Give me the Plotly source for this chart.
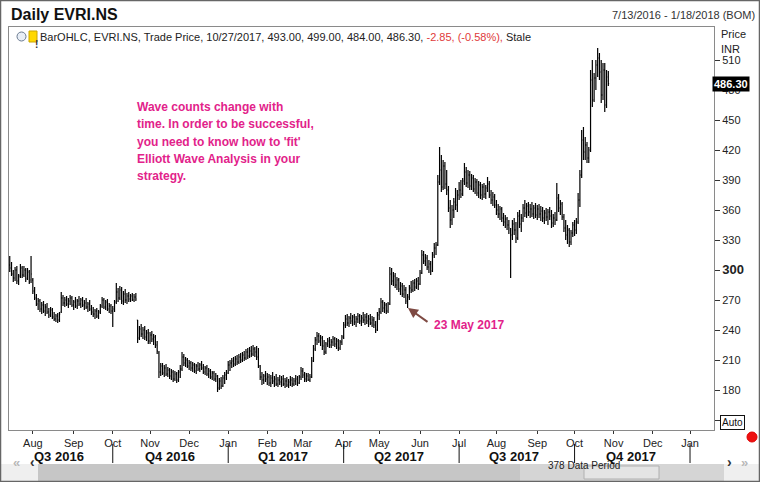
import pandas as pd
import plotly.graph_objects as go

# ---------------- DATA (daily OHLC, EVRI.NS, 13 Jul 2016 - 27 Oct 2017) ----------------
start_date = "2016-07-13"

opens = [
    # Jul 2016
    305,302,296,292,300,289,294,302,295,300,292,298,290,
    # Aug 2016
    290,279,272,266,269,261,265,259,263,258,255,260,253,251,254,250,258,272,267,270,266,269,272,
    # Sep 2016
    265,268,264,269,266,270,265,267,263,266,261,258,256,259,254,258,264,270,263,268,261,264,
    # Oct 2016
    259,261,268,278,272,280,269,276,270,274,271,274,270,273,250,232,241,236,240,233,237,
    # Nov 2016
    229,235,231,233,225,217,198,204,197,202,196,200,194,198,191,196,190,198,201,213,207,210,
    # Dec 2016
    204,207,202,205,199,204,201,205,202,198,202,196,199,193,197,191,194,182,189,184,192,195,
    # Jan 2017
    197,205,207,209,206,211,208,213,210,215,212,218,214,219,216,221,218,213,204,193,190,194,
    # Feb 2017
    191,193,187,192,189,191,186,190,188,191,186,189,185,188,190,186,189,191,187,193,
    # Mar 2017
    199,195,191,194,190,193,209,221,230,234,229,232,224,218,226,229,225,228,231,226,229,222,228,
    # Apr 2017
    233,245,251,247,252,249,253,248,251,254,249,252,250,253,249,251,247,250,245,240,
    # May 2017
    255,258,268,262,265,259,266,296,289,294,285,290,281,284,276,280,269,273,282,280,287,283,289,
    # Jun 2017
    286,297,315,309,312,303,306,299,315,322,325,388,400,383,404,386,380,362,350,360,368,365,
    # Jul 2017
    375,380,376,389,398,387,395,384,392,381,388,377,385,375,383,376,382,386,375,370,373,
    # Aug 2017
    365,360,356,361,352,348,351,345,340,335,346,340,332,354,346,352,362,357,364,358,361,356,362,
    # Sep 2017
    355,361,356,359,352,357,353,358,354,347,352,350,372,362,366,353,342,335,340,328,337,
    # Oct 2017
    345,340,348,370,395,430,418,425,412,420,490,470,492,505,512,498,475,500,465,493,
]

highs = [
    314,308,300,303,304,296,306,304,304,302,302,300,314,
    292,283,276,272,271,268,269,266,267,262,263,262,258,256,257,258,278,275,273,274,272,275,274,
    270,273,271,274,272,273,270,272,268,270,265,263,261,262,260,266,273,272,270,271,267,266,
    264,270,287,282,284,283,279,281,277,278,276,277,276,277,250,244,246,243,244,240,241,
    238,239,236,235,229,219,207,207,205,206,203,202,201,200,199,198,200,205,218,216,213,212,
    210,209,208,207,206,208,207,209,206,204,205,202,201,199,199,197,195,192,193,195,198,200,
    209,210,212,213,214,215,216,217,218,219,221,222,223,224,225,223,224,222,205,198,196,199,
    197,196,195,198,194,196,193,195,194,195,192,193,191,194,193,192,195,194,195,203,
    202,198,197,197,196,213,225,233,238,237,235,234,230,228,232,233,231,234,233,232,231,230,235,
    248,255,256,254,257,255,256,254,257,256,255,258,256,257,255,256,254,253,249,258,
    262,272,270,268,267,268,303,302,298,297,293,292,288,287,285,283,276,285,289,290,291,292,293,
    300,320,319,316,315,310,309,318,327,328,395,423,415,410,408,400,384,370,365,372,382,380,
    388,390,392,407,403,400,399,396,395,392,391,389,388,386,387,385,393,389,380,378,376,
    370,366,364,363,357,355,353,350,342,350,352,348,358,360,356,366,370,367,368,366,368,365,367,
    365,366,364,363,360,362,361,363,360,356,358,387,376,370,368,356,350,345,342,340,348,
    350,352,377,400,440,443,433,428,423,500,510,497,510,522,517,510,507,507,500,499,
]

lows = [
    298,294,288,289,286,285,292,292,293,288,290,286,287,
    276,270,264,260,258,256,257,254,256,252,253,251,249,248,247,248,257,264,263,264,262,265,263,
    260,262,261,264,262,263,260,261,258,259,255,253,251,252,251,256,262,261,260,259,257,256,
    243,258,266,268,270,266,265,267,266,268,268,269,268,269,227,230,233,231,230,229,226,
    226,228,225,222,216,192,194,195,193,194,193,191,190,188,189,187,188,192,199,204,203,202,
    200,199,198,197,196,199,198,200,196,195,194,192,191,190,189,188,178,180,181,183,186,190,
    196,199,202,203,204,205,206,207,208,209,210,211,212,213,214,213,210,202,190,185,186,188,
    185,184,183,186,183,184,183,185,183,184,182,183,182,184,183,184,185,184,186,190,
    192,188,188,189,188,192,208,219,225,227,224,220,215,216,223,222,222,224,223,221,219,220,225,
    231,242,244,243,246,244,245,243,247,246,244,247,245,246,243,245,243,242,237,239,
    250,256,258,257,256,257,265,285,284,282,280,278,275,273,272,266,262,270,277,278,279,281,280,
    285,296,306,304,300,297,295,298,312,315,324,385,378,380,381,375,358,342,345,352,360,358,
    370,372,374,385,383,382,380,380,378,376,374,372,371,370,372,371,378,372,366,364,362,
    355,352,350,348,344,342,340,336,292,330,335,327,330,342,338,348,353,352,354,352,353,351,352,
    350,352,349,348,346,349,345,350,342,343,345,349,358,355,350,338,330,326,323,325,333,
    334,336,346,363,392,410,410,407,407,418,463,468,480,493,490,467,470,458,462,484,
]

closes = [
    302,296,292,300,289,294,302,295,300,291,298,288,296,
    279,272,266,269,261,265,259,263,258,255,260,253,251,254,250,256,272,267,270,266,269,272,265,
    268,264,269,266,270,265,267,263,266,261,258,256,259,254,258,264,270,263,268,261,264,259,
    261,268,278,272,280,269,276,270,274,271,274,270,273,271,232,241,236,240,233,237,229,
    235,231,233,225,219,198,204,197,202,196,200,194,198,191,196,190,198,201,213,207,210,204,
    207,202,205,199,204,201,205,202,198,202,196,199,193,197,191,194,182,189,184,192,195,197,
    205,207,209,206,211,208,213,210,215,212,218,214,219,216,221,218,213,204,193,190,194,191,
    193,187,192,189,191,186,190,188,191,186,189,185,188,190,186,189,191,187,193,199,
    195,191,194,190,193,209,221,230,234,229,232,224,218,226,229,225,228,231,226,229,222,228,233,
    245,251,247,252,249,253,248,251,254,249,252,250,253,249,251,247,250,245,240,255,
    258,268,262,265,259,266,296,289,294,285,290,281,284,276,280,269,273,282,280,287,283,289,286,
    297,315,309,312,303,306,299,315,322,325,388,400,383,404,386,380,362,350,360,368,365,375,
    380,376,389,398,387,395,384,392,381,388,377,385,375,383,376,382,386,375,370,373,365,
    360,356,361,352,348,351,345,342,335,346,340,332,354,346,352,362,357,364,358,361,356,362,355,
    361,356,359,352,357,353,358,354,347,352,350,372,362,366,353,342,335,340,328,337,345,
    340,348,370,395,430,418,425,412,420,490,470,492,505,512,498,475,500,465,489,486.3,
]

month_ticks = ["2016-08-01","2016-09-01","2016-10-03","2016-11-01","2016-12-01","2017-01-02",
               "2017-02-01","2017-03-01","2017-04-03","2017-05-01","2017-06-01","2017-07-03",
               "2017-08-01","2017-09-01","2017-10-02","2017-11-01","2017-12-01","2018-01-01"]
month_labels = ["Aug","Sep","Oct","Nov","Dec","Jan","Feb","Mar","Apr","May","Jun","Jul",
                "Aug","Sep","Oct","Nov","Dec","Jan"]

quarter_labels = ["Q3 2016","Q4 2016","Q1 2017","Q2 2017","Q3 2017","Q4 2017"]
quarter_centers = ["2016-08-22","2016-11-16","2017-02-14","2017-05-16","2017-08-15","2017-11-15"]
quarter_starts = ["2016-10-03","2017-01-02","2017-04-03","2017-07-03","2017-10-02","2018-01-01"]

price_ticks = [150,180,210,240,270,300,330,360,390,420,450,480,510]
price_labels = ["","180","210","240","270",
                "<span style='font-size:13px'><b>300</b></span>",
                "330","360","390","420","450","480","510"]

last_price = 486.30
note_lines = ["Wave counts change with",
              "time. In order to be successful,",
              "you need to know how to 'fit'",
              "Elliott Wave Analysis in your",
              "strategy."]
arrow_label = "23 May 2017"

# ---------------- FIGURE ----------------
W, H = 760, 482
L, R, T, B = 9, 46, 27, 52
PW, PH = W - L - R, H - T - B


def px(x):
    return (x - L) / PW


def py(y):
    return (H - B - y) / PH


FONT = "Liberation Sans, Arial, sans-serif"
MAG = "#e2228a"

dates = pd.bdate_range(start_date, periods=len(closes))

fig = go.Figure(go.Ohlc(
    x=dates, open=opens, high=highs, low=lows, close=closes,
    increasing=dict(line=dict(color="black", width=1.2)),
    decreasing=dict(line=dict(color="black", width=1.2)),
    tickwidth=0.45, hoverinfo="skip", showlegend=False,
))

fig.update_layout(
    width=W, height=H,
    margin=dict(l=L, r=R, t=T, b=B),
    paper_bgcolor="white", plot_bgcolor="white",
    font=dict(family=FONT, size=11, color="#222"),
    hovermode=False,
    xaxis=dict(
        type="date", rangeslider=dict(visible=False),
        rangebreaks=[dict(bounds=["sat", "mon"])],
        range=["2016-07-12 14:00", "2018-01-18 12:00"],
        tickvals=month_ticks, ticktext=month_labels,
        ticks="outside", ticklen=3, tickcolor="#333",
        tickfont=dict(size=11, color="#222"),
        showgrid=False, zeroline=False,
        showline=True, linecolor="#8a8a8a", linewidth=1, mirror=True,
    ),
    yaxis=dict(
        side="right", range=[140, 543],
        tickvals=price_ticks, ticktext=price_labels,
        ticks="outside", ticklen=5, tickcolor="#333",
        tickfont=dict(size=11, color="#222"),
        showgrid=False, zeroline=False,
        showline=True, linecolor="#8a8a8a", linewidth=1, mirror=True,
    ),
)

ann = []
shapes = []

# header
ann.append(dict(text="<b>Daily EVRI.NS</b>", xref="paper", yref="paper", x=px(9), y=py(14),
                xanchor="left", yanchor="middle", showarrow=False,
                font=dict(size=16, color="#111", family=FONT)))
ann.append(dict(text="7/13/2016 - 1/18/2018 (BOM)", xref="paper", yref="paper", x=px(757), y=py(15),
                xanchor="right", yanchor="middle", showarrow=False,
                font=dict(size=11, color="#333", family=FONT)))
ann.append(dict(text="BarOHLC, EVRI.NS, Trade Price, 10/27/2017, 493.00, 499.00, 484.00, 486.30, "
                     "<span style='color:#e03a3a'>-2.85, (-0.58%),</span> Stale",
                xref="paper", yref="paper", x=px(38), y=py(37), xanchor="left", yanchor="middle",
                showarrow=False, font=dict(size=11, color="#222", family=FONT)))
# legend icons
shapes.append(dict(type="circle", xref="paper", yref="paper", x0=px(17), x1=px(26), y0=py(41), y1=py(32),
                   line=dict(color="#6a7a90", width=1), fillcolor="#e8eef6"))
shapes.append(dict(type="rect", xref="paper", yref="paper", x0=px(29), x1=px(37), y0=py(42), y1=py(31),
                   line=dict(color="#c9a400", width=1), fillcolor="#ffd800"))
ann.append(dict(text="<b>!</b>", xref="paper", yref="paper", x=px(33), y=py(37), showarrow=False,
                font=dict(size=10, color="#333", family=FONT)))

# right axis header
ann.append(dict(text="Price", xref="paper", yref="paper", x=px(719), y=py(34), xanchor="left",
                yanchor="middle", showarrow=False, font=dict(size=11, color="#222", family=FONT)))
ann.append(dict(text="INR", xref="paper", yref="paper", x=px(719), y=py(49), xanchor="left",
                yanchor="middle", showarrow=False, font=dict(size=11, color="#222", family=FONT)))
# last price label
ann.append(dict(text="<b>%.2f</b>" % last_price, xref="paper", yref="y", x=px(712), y=last_price,
                xanchor="left", yanchor="middle", showarrow=False, bgcolor="black", borderpad=1,
                font=dict(size=11, color="white", family=FONT)))
# Auto button
ann.append(dict(text="Auto", xref="paper", yref="paper", x=px(720), y=py(422), xanchor="left",
                yanchor="middle", showarrow=False, bgcolor="white", bordercolor="#111",
                borderwidth=1, borderpad=1, font=dict(size=10, color="#111", family=FONT)))
# red dot
shapes.append(dict(type="circle", xref="paper", yref="paper", x0=px(747), x1=px(757), y0=py(442), y1=py(432),
                   line=dict(color="#e00000", width=1), fillcolor="#ee1010"))

# magenta note
for k, line in enumerate(note_lines):
    ann.append(dict(text="<b>%s</b>" % line, xref="paper", yref="paper", x=px(135), y=py(107 + 17.3 * k),
                    xanchor="left", yanchor="middle", showarrow=False,
                    font=dict(size=12, color=MAG, family=FONT)))

# arrow + label
ann.append(dict(text="", xref="paper", yref="paper", x=px(408), y=py(308), ax=21, ay=15,
                showarrow=True, arrowhead=2, arrowsize=1, arrowwidth=2, arrowcolor="#7e4a43"))
ann.append(dict(text="<b>%s</b>" % arrow_label, xref="paper", yref="paper", x=px(432), y=py(325),
                xanchor="left", yanchor="middle", showarrow=False,
                font=dict(size=12, color=MAG, family=FONT)))

# scrollbar strip
shapes.append(dict(type="rect", xref="paper", yref="paper", x0=px(0), x1=px(760), y0=py(482), y1=py(464),
                   line=dict(width=0), fillcolor="#efefef"))
shapes.append(dict(type="rect", xref="paper", yref="paper", x0=px(38), x1=px(520), y0=py(482), y1=py(464),
                   line=dict(width=0), fillcolor="#c6c6c6"))
shapes.append(dict(type="rect", xref="paper", yref="paper", x0=px(520), x1=px(724), y0=py(482), y1=py(464),
                   line=dict(width=0), fillcolor="#d5d5d5"))
shapes.append(dict(type="rect", xref="paper", yref="paper", x0=px(584), x1=px(659), y0=py(479), y1=py(466),
                   line=dict(color="#b0b0b0", width=1), fillcolor="#e4e4e4"))
ann.append(dict(text="378 Data Period", xref="paper", yref="paper", x=px(621.5), y=py(472.5), showarrow=False,
                font=dict(size=10, color="#222", family=FONT)))
ann.append(dict(text="<b>«</b>", xref="paper", yref="paper", x=px(11), y=py(472), showarrow=False,
                font=dict(size=13, color="#b8b8b8", family=FONT)))
ann.append(dict(text="<b>‹</b>", xref="paper", yref="paper", x=px(28), y=py(472), showarrow=False,
                font=dict(size=14, color="#333", family=FONT)))
ann.append(dict(text="<b>›</b>", xref="paper", yref="paper", x=px(734), y=py(472), showarrow=False,
                font=dict(size=14, color="#333", family=FONT)))
ann.append(dict(text="<b>»</b>", xref="paper", yref="paper", x=px(750), y=py(472), showarrow=False,
                font=dict(size=13, color="#b8b8b8", family=FONT)))

# quarter labels and separators
for lab, c in zip(quarter_labels, quarter_centers):
    ann.append(dict(text="<b>%s</b>" % lab, xref="x", yref="paper", x=c, y=py(456.5),
                    yanchor="middle", showarrow=False, font=dict(size=13, color="#111", family=FONT)))
for s in quarter_starts:
    shapes.append(dict(type="line", xref="x", yref="paper", x0=s, x1=s, y0=py(444), y1=py(463),
                       line=dict(color="#111", width=1)))

# outer frame
shapes.append(dict(type="rect", xref="paper", yref="paper", x0=px(0.5), x1=px(759.5), y0=py(481.5), y1=py(0.5),
                   line=dict(color="#666", width=1.5)))

fig.update_layout(annotations=ann, shapes=shapes)
fig.write_html("out.html", config={"displayModeBar": False},
               post_script="document.body.style.margin='0';")
